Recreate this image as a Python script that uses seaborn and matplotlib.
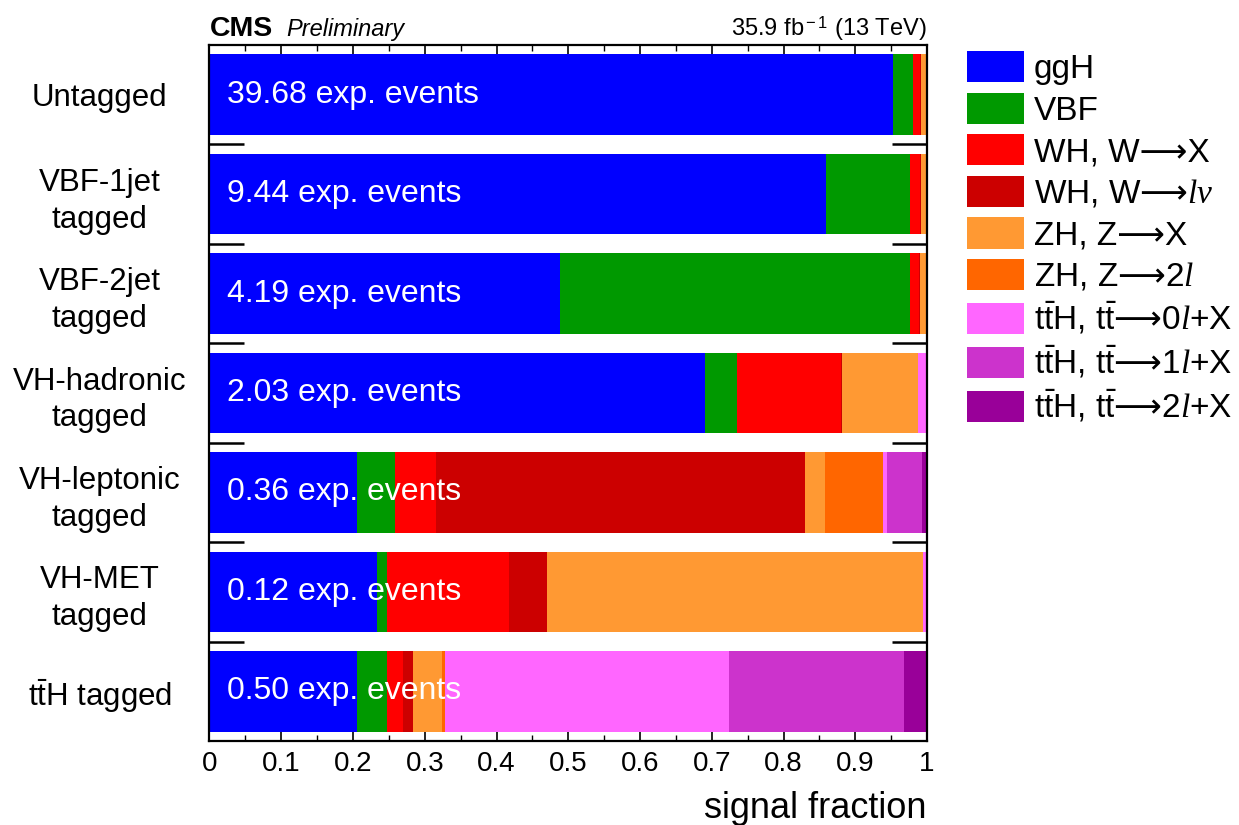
import numpy as np
import matplotlib
matplotlib.use("Agg")
import matplotlib.pyplot as plt
from matplotlib.patches import Patch
import matplotlib.transforms as mtransforms
import seaborn as sns

# ---------------- data ----------------
categories = ["Untagged", "VBF-1jet\ntagged", "VBF-2jet\ntagged",
              "VH-hadronic\ntagged", "VH-leptonic\ntagged", "VH-MET\ntagged",
              r"t$\bar{\rm t}$H tagged"]
exp_events = ["39.68", "9.44", "4.19", "2.03", "0.36", "0.12", "0.50"]

ARROW = "$\\mathsf{\u27f6}$"
process_labels = ["ggH", "VBF", "WH, W\u27f6X", "WH, W" + ARROW + r"$l\nu$",
                  "ZH, Z\u27f6X", "ZH, Z" + ARROW + r"2$l$",
                  r"t$\bar{\rm t}$H, t$\bar{\rm t}$" + ARROW + r"0$l$+X",
                  r"t$\bar{\rm t}$H, t$\bar{\rm t}$" + ARROW + r"1$l$+X",
                  r"t$\bar{\rm t}$H, t$\bar{\rm t}$" + ARROW + r"2$l$+X"]
process_colors = ["#0000ff", "#009900", "#ff0000", "#cc0000", "#ff9933",
                  "#ff6600", "#ff66ff", "#cc33cc", "#990099"]

ggH  = [0.953, 0.859, 0.488, 0.690, 0.205, 0.233, 0.206]
VBF  = [0.027, 0.117, 0.488, 0.045, 0.053, 0.015, 0.042]
WHX  = [0.010, 0.014, 0.013, 0.145, 0.058, 0.170, 0.022]
WHlv = [0.001, 0.001, 0.001, 0.001, 0.514, 0.053, 0.014]
ZHX  = [0.008, 0.008, 0.008, 0.107, 0.028, 0.523, 0.040]
ZH2l = [0.000, 0.000, 0.000, 0.000, 0.081, 0.001, 0.004]
ttH0 = [0.001, 0.001, 0.002, 0.012, 0.005, 0.005, 0.396]
ttH1 = [0.000, 0.000, 0.000, 0.000, 0.049, 0.000, 0.244]
ttH2 = [0.000, 0.000, 0.000, 0.000, 0.007, 0.000, 0.032]

series = [ggH, VBF, WHX, WHlv, ZHX, ZH2l, ttH0, ttH1, ttH2]

xticks = [0, 0.1, 0.2, 0.3, 0.4, 0.5, 0.6, 0.7, 0.8, 0.9, 1]
xticklabels = ["0", "0.1", "0.2", "0.3", "0.4", "0.5", "0.6", "0.7", "0.8", "0.9", "1"]

# ---------------- style ----------------
sns.set_style("ticks")
plt.rcParams["font.family"] = ["Liberation Sans", "DejaVu Sans"]
plt.rcParams["mathtext.fontset"] = "custom"
plt.rcParams["mathtext.rm"] = "Liberation Sans"
plt.rcParams["mathtext.it"] = "Liberation Serif:italic"
plt.rcParams["mathtext.bf"] = "Liberation Sans:bold"
plt.rcParams["mathtext.sf"] = "DejaVu Sans"
plt.rcParams["mathtext.fallback"] = "stix"
for key in ["text.color", "axes.labelcolor", "xtick.color", "ytick.color",
            "axes.edgecolor"]:
    plt.rcParams[key] = "black"

W, H = 1239, 825
fig = plt.figure(figsize=(W / 100, H / 100), dpi=100)
ax = fig.add_axes([209.5 / W, 1 - 741 / H, (927 - 209.5) / W, (741 - 45) / H])

cum = np.cumsum(np.array(series), axis=0)
for k in range(len(series) - 1, -1, -1):
    sns.barplot(x=list(cum[k]), y=categories, color=process_colors[k],
                saturation=1, width=0.81, linewidth=0, orient="h", ax=ax)

ax.set_xlim(0, 1)
ax.set_ylim(6.5, -0.5)

# bar annotations
trans = mtransforms.blended_transform_factory(ax.transAxes, ax.transData)
for i, ev in enumerate(exp_events):
    ax.text(0.024, i, f"{ev} exp. events", transform=trans, color="white",
            fontsize=23, va="center", ha="left")

# x axis
ax.set_xticks(xticks)
ax.set_xticklabels(xticklabels)
ax.set_xticks(np.arange(0.05, 1.0, 0.1), minor=True)
ax.tick_params(axis="x", which="major", direction="in", length=8, width=1.2,
               top=True, bottom=True, labelsize=20, pad=7)
ax.tick_params(axis="x", which="minor", direction="in", length=4, width=1.0,
               top=True, bottom=True)
ax.set_xlabel("signal fraction", fontsize=26, loc="right", labelpad=10)

# y axis: labels at centres, ticks at boundaries
ax.set_yticks(range(len(categories)))
ax.set_yticklabels(categories)
ax.set_yticks(np.arange(0.5, len(categories) - 1, 1.0), minor=True)
ax.tick_params(axis="y", which="major", length=0, labelsize=22.5, pad=79)
ax.tick_params(axis="y", which="minor", direction="in", length=25, width=1.8,
               left=True, right=True)
for lab in ax.get_yticklabels():
    lab.set_ha("center")
    lab.set_multialignment("center")
    lab.set_linespacing(1.3)
ax.set_ylabel("")

for sp in ax.spines.values():
    sp.set_linewidth(1.6)
    sp.set_color("black")

# header
ax.annotate("CMS", xy=(0, 1), xycoords="axes fraction", xytext=(0, 6.5),
            textcoords="offset points", fontsize=20.5, fontweight="bold",
            va="baseline", ha="left")
ax.annotate("Preliminary", xy=(0, 1), xycoords="axes fraction", xytext=(55, 6.5),
            textcoords="offset points", fontsize=17, style="italic",
            va="baseline", ha="left")
ax.annotate("35.9 fb$^{\\rm -1}$ (13 TeV)", xy=(1, 1), xycoords="axes fraction",
            xytext=(0, 6.5), textcoords="offset points", fontsize=17,
            va="baseline", ha="right")

# legend
handles = [Patch(facecolor=c, edgecolor="none") for c in process_colors]
fig.legend(handles, process_labels, loc="upper left",
           bbox_to_anchor=(967 / W, 1 - 51 / H), frameon=False, fontsize=24,
           handlelength=1.7, handleheight=1.06, handletextpad=0.3,
           labelspacing=0.23, borderpad=0, borderaxespad=0)

fig.savefig("out.png", dpi=100)
